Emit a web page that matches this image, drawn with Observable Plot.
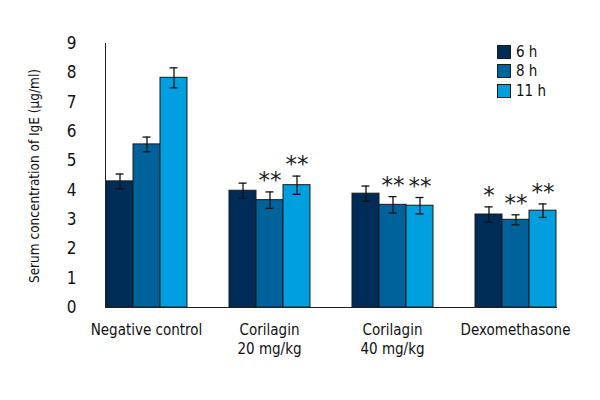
<!DOCTYPE html>
<html>
<head>
<meta charset="utf-8">
<script src="https://cdn.jsdelivr.net/npm/d3@7"></script>
<script src="https://cdn.jsdelivr.net/npm/@observablehq/plot@0.6"></script>
<style>
  body { margin: 0; background: #fff; }
  #wrap { position: relative; width: 600px; height: 400px; font-family: "Liberation Sans Narrow", "DejaVu Sans Condensed", "Roboto", sans-serif; }
  #legend { position: absolute; left: 497px; top: 42px; font-size: 15px; color: #111; }
  #legend div { display: flex; align-items: center; height: 19.5px; }
  #legend span.sw { display: inline-block; width: 14px; height: 14px; border: 1px solid #1a1a1a; margin-right: 5px; box-sizing: border-box; }
</style>
</head>
<body>
<div id="wrap"></div>
<script>
const groups = ["Negative control", "Corilagin\n20 mg/kg", "Corilagin\n40 mg/kg", "Dexomethasone"];
const times = ["6 h", "8 h", "11 h"];
const colors = ["#002d57", "#00629b", "#009fe0"];
const mean6 = [4.30, 3.98, 3.88, 3.17];
const mean8 = [5.56, 3.66, 3.50, 2.99];
const mean11 = [7.83, 4.17, 3.47, 3.30];
const err6 = [0.25, 0.26, 0.26, 0.26];
const err8 = [0.25, 0.28, 0.28, 0.17];
const err11 = [0.34, 0.31, 0.28, 0.23];
const sig6 = ["", "", "", "*"];
const sig8 = ["", "**", "**", "**"];
const sig11 = ["", "**", "**", "**"];
const yTicks = [0, 1, 2, 3, 4, 5, 6, 7, 8, 9];

const means = [mean6, mean8, mean11];
const errs = [err6, err8, err11];
const sigs = [sig6, sig8, sig11];
const data = [];
groups.forEach((g, gi) => {
  times.forEach((t, ti) => {
    const m = means[ti][gi], e = errs[ti][gi];
    data.push({group: g, time: t, value: m, lo: m - e, hi: m + e, sig: sigs[ti][gi]});
  });
});

const font = "Liberation Sans Narrow, DejaVu Sans Condensed, Roboto, sans-serif";

const chart = Plot.plot({
  width: 600,
  height: 400,
  marginLeft: 84,
  marginRight: 22,
  marginTop: 43,
  marginBottom: 93,
  style: {fontFamily: font, fontSize: "16px", color: "#111", background: "#fff"},
  fx: {domain: groups, paddingInner: 0.33, paddingOuter: 0.165, label: null, axis: null},
  x: {domain: times, padding: 0, axis: null},
  y: {domain: [0, 9], ticks: yTicks, label: null, axis: null},
  color: {domain: times, range: colors},
  marks: [
    Plot.barY(data, {fx: "group", x: "time", y: "value", fill: "time", stroke: "#1a1a1a", strokeWidth: 1}),
    Plot.ruleX(data, {fx: "group", x: "time", y1: "lo", y2: "hi", stroke: "#111", strokeWidth: 1.3}),
    Plot.tickY(data, {fx: "group", x: "time", y: "lo", stroke: "#111", strokeWidth: 1.3, inset: 9.5}),
    Plot.tickY(data, {fx: "group", x: "time", y: "hi", stroke: "#111", strokeWidth: 1.3, inset: 9.5}),
    Plot.text(data, {fx: "group", x: "time", y: "hi", text: "sig", dy: -4, lineAnchor: "bottom", fontSize: 23, fill: "#222", fontFamily: "DejaVu Sans"}),
    Plot.axisY({ticks: yTicks, tickSize: 0, tickPadding: 29, label: null, fontSize: 17, fill: "#111"}),
    Plot.axisFx({anchor: "bottom", tickSize: 0, tickPadding: 14, label: null, fontSize: 15, lineHeight: 1.25, fill: "#111"}),
    Plot.frame({anchor: "left", stroke: "#222", facet: "super"}),
    Plot.frame({anchor: "bottom", stroke: "#222", facet: "super"})
  ]
});

const wrap = document.getElementById("wrap");
wrap.appendChild(chart);

const svg = d3.select(chart.tagName.toLowerCase() === "svg" ? chart : chart.querySelector("svg"));
svg.append("text")
  .attr("transform", "translate(39,176) rotate(-90)")
  .attr("text-anchor", "middle")
  .attr("font-family", font)
  .attr("font-size", 13.5)
  .attr("fill", "#111")
  .text("Serum concentration of IgE (μg/ml)");

const legend = document.createElement("div");
legend.id = "legend";
times.forEach((t, i) => {
  const row = document.createElement("div");
  const sw = document.createElement("span");
  sw.className = "sw";
  sw.style.background = colors[i];
  row.appendChild(sw);
  row.appendChild(document.createTextNode(t));
  legend.appendChild(row);
});
wrap.appendChild(legend);
</script>
</body>
</html>
